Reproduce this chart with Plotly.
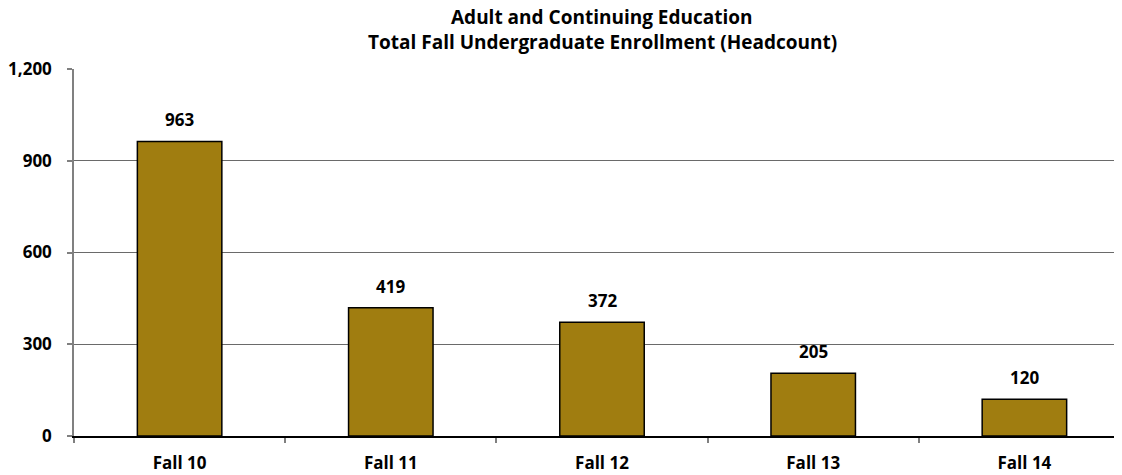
import plotly.graph_objects as go

categories = ["Fall 10", "Fall 11", "Fall 12", "Fall 13", "Fall 14"]
values = [963, 419, 372, 205, 120]
title_lines = ["Adult and Continuing Education", "Total Fall Undergraduate Enrollment (Headcount)"]

FONT = "Open Sans"
# the page body adds an 8px offset; the figure is sized to fill the visible window
OFF = 8
W, H = 1122 - OFF, 475 - OFF
ML, MT, MB, MR = 74 - OFF, 69 - OFF, 39, 0
PLOT_H = H - MT - MB
PLOT_W = W - ML - MR

fig = go.Figure()
fig.add_trace(go.Bar(
    x=categories,
    y=values,
    width=0.40,
    marker=dict(color="#A07D10", line=dict(color="#000000", width=1.5)),
    hoverinfo="x+y",
))

# data labels above bars
for c, v in zip(categories, values):
    fig.add_annotation(
        x=c, y=v, xref="x", yref="y",
        text="<b>%d</b>" % v,
        showarrow=False,
        yanchor="bottom",
        yshift=8,
        font=dict(family=FONT, size=17, color="#000000"),
    )

# title lines (centres in screen pixels)
title_centers = [17, 42]
title_cx = (74 + 1130) / 2
for line, yc in zip(title_lines, title_centers):
    fig.add_annotation(
        x=(title_cx - 74) / PLOT_W,
        y=1 + (69 - yc) / PLOT_H,
        xref="paper", yref="paper",
        text="<b>%s</b>" % line,
        showarrow=False,
        xanchor="center", yanchor="middle",
        borderpad=0,
        font=dict(family=FONT, size=19, color="#000000"),
    )

fig.update_layout(
    width=W,
    height=H,
    margin=dict(l=ML, r=MR, t=MT, b=MB, autoexpand=False),
    plot_bgcolor="#FFFFFF",
    paper_bgcolor="#FFFFFF",
    showlegend=False,
    font=dict(family=FONT, color="#000000"),
)

fig.update_xaxes(
    type="category",
    range=[-0.5, 4.5 - 8 / 211],
    tickson="boundaries",
    ticks="outside",
    ticklen=5,
    tickcolor="#808080",
    tickwidth=1.5,
    showline=True,
    linecolor="#000000",
    linewidth=1.5,
    showgrid=False,
    automargin=False,
    ticklabelstandoff=11,
    tickfont=dict(family=FONT, size=17, color="#000000", weight="bold"),
)

fig.update_yaxes(
    range=[0, 1200],
    dtick=300,
    tickformat=",",
    ticks="outside",
    ticklen=5,
    tickcolor="#808080",
    tickwidth=1.5,
    showline=True,
    linecolor="#808080",
    linewidth=1.5,
    showgrid=True,
    gridcolor="#6a6a6a",
    gridwidth=1,
    zeroline=False,
    automargin=False,
    ticklabelstandoff=12,
    tickfont=dict(family=FONT, size=17, color="#000000", weight="bold"),
)

fig.write_html("out.html")
